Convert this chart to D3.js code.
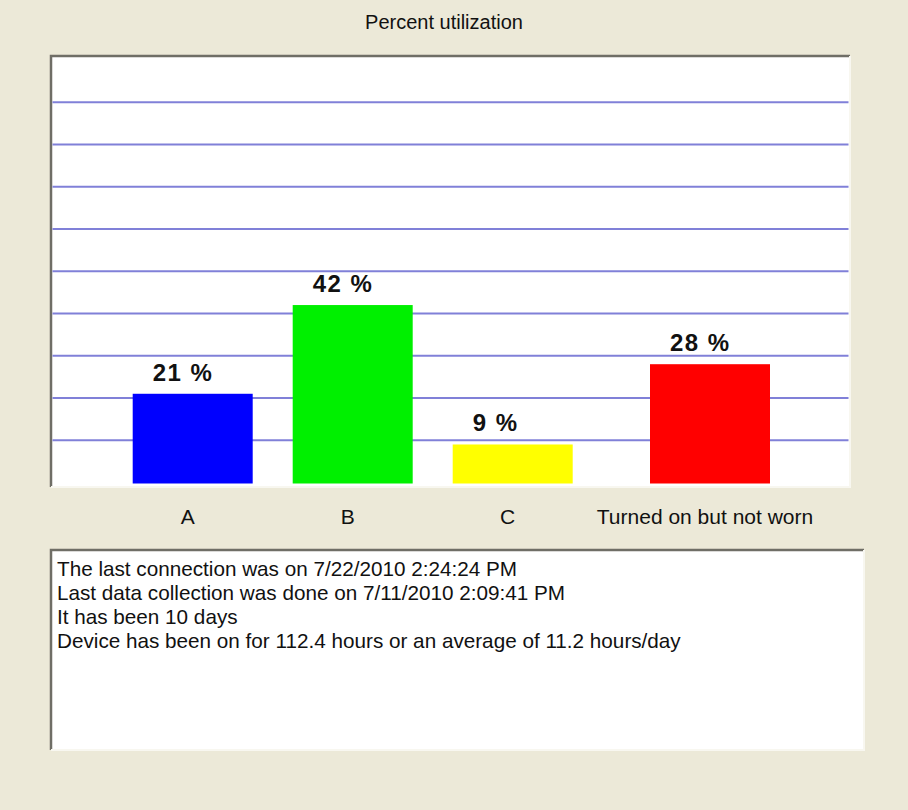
<!DOCTYPE html>
<html>
<head>
<meta charset="utf-8">
<script src="https://cdn.jsdelivr.net/npm/d3@7"></script>
<style>
  body { margin: 0; background: #ece9d8; }
  text { font-family: Arial, "Liberation Sans", sans-serif; }
</style>
</head>
<body>
<div id="chart"></div>
<script>
var chart_title = "Percent utilization";
var categories = ["A", "B", "C", "Turned on but not worn"];
var percents = [21, 42, 9, 28];
var info_lines = [
    "The last connection was on 7/22/2010 2:24:24 PM",
    "Last data collection was done on 7/11/2010 2:09:41 PM",
    "It has been 10 days",
    "Device has been on for 112.4 hours or an average of 11.2 hours/day"
];

function draw_chart() {
    var width = 908,
        height = 810,
        panel = {x0: 51, y0: 56, x1: 850, y1: 487},
        infobox = {x0: 51, y0: 550, x1: 864, y1: 750},
        idle_gap = 37.3;   // the "not worn" bar sits a bit further right

    var svg = d3.select("#chart").append("svg")
        .attr("width", width)
        .attr("height", height);

    svg.append("rect")
        .attr("width", width).attr("height", height)
        .attr("fill", "#ece9d8");

    var y = d3.scaleLinear()
        .domain([0, 100])
        .range([482.5, 60]);

    var x = d3.scaleBand()
        .domain(categories)
        .range([132.7, 732.7])
        .paddingInner(0.25)
        .paddingOuter(0);

    var color = d3.scaleOrdinal()
        .domain(categories)
        .range(["#0000ff", "#00f000", "#ffff00", "#ff0000"]);

    function bar_x(d) {
        return x(d) + (d == categories[categories.length - 1] ? idle_gap : 0);
    }

    // title
    svg.append("text")
        .attr("x", 444).attr("y", 29)
        .attr("text-anchor", "middle")
        .style("font-size", "20px")
        .style("fill", "#111")
        .text(chart_title);

    // sunken panel, like an old windows control
    function sunken(box) {
        var g = svg.append("g");
        g.append("rect")
            .attr("x", box.x0).attr("y", box.y0)
            .attr("width", box.x1 - box.x0).attr("height", box.y1 - box.y0)
            .attr("fill", "#ffffff");
        g.append("path")
            .attr("d", "M" + box.x0 + "," + box.y1 + "V" + box.y0 + "H" + box.x1)
            .attr("fill", "none")
            .attr("stroke", "#6f6e66")
            .attr("stroke-width", 2.5);
        g.append("path")
            .attr("d", "M" + box.x0 + "," + box.y1 + "H" + box.x1 + "V" + box.y0)
            .attr("fill", "none")
            .attr("stroke", "#f8f7f0")
            .attr("stroke-width", 2);
        return g;
    }

    sunken(panel);

    // horizontal grid
    svg.append("g")
        .selectAll("line")
        .data(y.ticks(10).filter(d => d > 0 && d < 100))
        .enter().append("line")
        .attr("x1", panel.x0 + 1.5)
        .attr("x2", panel.x1 - 1.5)
        .attr("y1", d => y(d))
        .attr("y2", d => y(d))
        .attr("stroke", "#8080d8")
        .attr("stroke-width", 1.8);

    // bars
    svg.append("g")
        .selectAll("rect")
        .data(categories)
        .enter().append("rect")
        .attr("x", d => bar_x(d))
        .attr("y", (d, i) => y(percents[i]))
        .attr("width", x.bandwidth())
        .attr("height", (d, i) => y(0) - y(percents[i]) + 1)
        .attr("fill", d => color(d));

    // value labels
    svg.append("g")
        .selectAll("text")
        .data(categories)
        .enter().append("text")
        .attr("x", d => bar_x(d) + 20)
        .attr("y", (d, i) => y(percents[i]) - 13)
        .style("font-size", "24px")
        .style("font-weight", "bold")
        .style("letter-spacing", "1.5px")
        .style("fill", "#111")
        .text((d, i) => percents[i] + " %");

    // category labels
    svg.append("g")
        .selectAll("text")
        .data(categories)
        .enter().append("text")
        .attr("x", d => bar_x(d) + x.bandwidth() / 2 - 5)
        .attr("y", 524)
        .attr("text-anchor", "middle")
        .style("font-size", "21px")
        .style("fill", "#111")
        .text(d => d);

    // info text box
    sunken(infobox);

    svg.append("g")
        .selectAll("text")
        .data(info_lines)
        .enter().append("text")
        .attr("x", infobox.x0 + 6)
        .attr("y", (d, i) => 576 + i * 24)
        .style("font-size", "20.7px")
        .style("fill", "#111")
        .text(d => d);
}

draw_chart();
</script>
</body>
</html>
